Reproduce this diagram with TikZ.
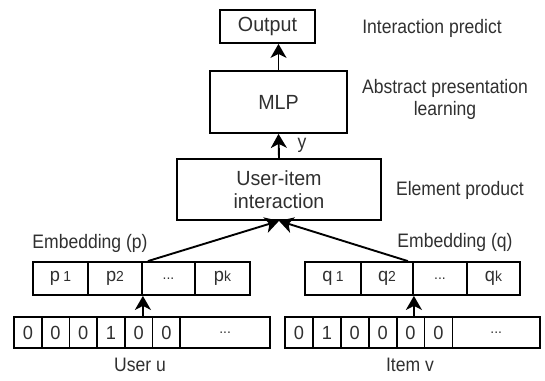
\documentclass[tikz,border=0pt]{standalone}
\usepackage{fontspec}
\setmainfont{Liberation Sans}
\newfontfamily\lblfont[FakeStretch=0.9]{Liberation Sans}
\newfontfamily\boxfont[FakeStretch=0.96]{Liberation Sans}
\usetikzlibrary{arrows.meta}
\definecolor{txt}{HTML}{303030}
\newcommand{\sub}[1]{{\fontsize{14.5}{14.5}\selectfont #1}}
\tikzset{
  box/.style={draw=black, line width=1.8pt, rectangle, inner sep=0pt, text=txt,
    font=\boxfont\fontsize{20.5}{23}\selectfont},
  cell/.style={box, minimum height=31pt, font=\boxfont\fontsize{19}{22}\selectfont},
  emb/.style={box, minimum height=33pt, font=\boxfont\fontsize{19}{22}\selectfont},
  lbl/.style={text=txt, inner sep=0pt, align=center, font=\lblfont\fontsize{19.5}{22}\selectfont},
  arr/.style={line width=1.9pt, -{Stealth[length=14pt,width=16pt,inset=4pt]}},
}
\begin{document}
\begin{tikzpicture}[x=1pt, y=-1pt]
\useasboundingbox (0,0) rectangle (545,380);

% upper stack
\node[box, minimum width=95pt, minimum height=33pt] (out) at (267.5,26.5) {\raisebox{2pt}{Output}};
\node[box, minimum width=137pt, minimum height=62pt] (mlp) at (278.5,102) {MLP};
\node[box, minimum width=204pt, minimum height=61pt, align=center] (ui) at (279,189.5) {User-item\\interaction};

\draw[arr] (mlp.north) -- (mlp.north |- out.south);
\draw[arr] (ui.north) -- (mlp.south);
\node[lbl] (y) at (302,145) {y};

% side labels
\node[lbl] (l1) at (432,28) {Interaction predict};
\node[lbl] (l2) at (445,99) {Abstract presentation\\learning};
\node[lbl] (l3) at (460,190) {Element product};

% embedding vectors
\node[emb, minimum width=55pt] (p1) at (60.5,278.5) {p\,\sub{1}};
\node[emb, minimum width=54pt] (p2) at (115,278.5) {p\sub{2}};
\node[emb, minimum width=53pt] (p3) at (168.5,278.5) {\sub{...}};
\node[emb, minimum width=55pt] (p4) at (222.5,278.5) {p\sub{k}};

\node[emb, minimum width=56pt] (q1) at (333,278.5) {q\,\sub{1}};
\node[emb, minimum width=52pt] (q2) at (387,278.5) {q\sub{2}};
\node[emb, minimum width=54pt] (q3) at (440,278.5) {\sub{...}};
\node[emb, minimum width=53pt] (q4) at (493.5,278.5) {q\sub{k}};

\node[lbl] (ep) at (90,243) {Embedding (p)};
\node[lbl] (eq) at (455,242) {Embedding (q)};

% one-hot user vector
\node[cell, minimum width=27.7pt] (u1) at (27.85,332.5) {0};
\node[cell, minimum width=27.7pt] (u2) at (55.55,332.5) {0};
\node[cell, minimum width=27.7pt] (u3) at (83.25,332.5) {0};
\node[cell, minimum width=27.7pt] (u4) at (110.95,332.5) {1};
\node[cell, minimum width=27.7pt] (u5) at (138.65,332.5) {0};
\node[cell, minimum width=27.7pt] (u6) at (166.35,332.5) {0};
\node[cell, minimum width=89.8pt] (u7) at (225.1,332.5) {\sub{...}};

% one-hot item vector
\node[cell, minimum width=27.9pt] (v1) at (298.95,332.5) {0};
\node[cell, minimum width=27.9pt] (v2) at (326.85,332.5) {1};
\node[cell, minimum width=27.9pt] (v3) at (354.75,332.5) {0};
\node[cell, minimum width=27.9pt] (v4) at (382.65,332.5) {0};
\node[cell, minimum width=27.9pt] (v5) at (410.55,332.5) {0};
\node[cell, minimum width=27.9pt] (v6) at (438.45,332.5) {0};
\node[cell, minimum width=87.6pt] (v7) at (496.2,332.5) {\sub{...}};

\node[lbl] (uu) at (140,365) {User u};
\node[lbl] (iv) at (410,365) {Item v};

% lookups and merge
\draw[arr] (p2.south east |- u5.north) -- (p2.south east);
\draw[arr] (q2.south east |- v5.north) -- (q2.south east);
\draw[arr] ([xshift=5pt]p2.north east) -- (ui.south);
\draw[arr] ([xshift=-6pt]q2.north east) -- (ui.south);
\end{tikzpicture}
\end{document}
